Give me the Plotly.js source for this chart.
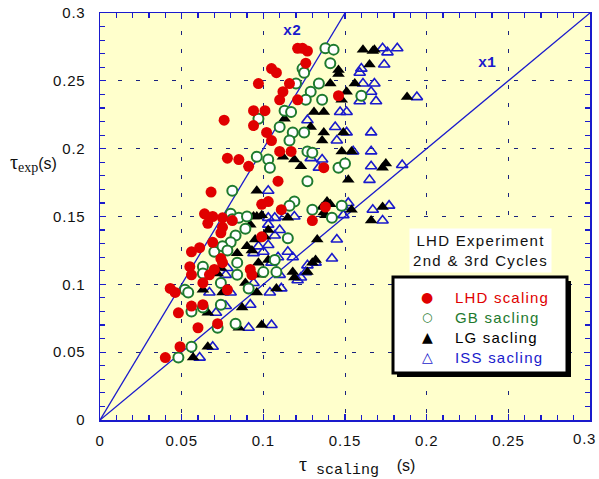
<!DOCTYPE html>
<html>
<head>
<meta charset="utf-8">
<script src="https://cdn.plot.ly/plotly-3.0.1.min.js"></script>
<style>
html,body{margin:0;padding:0;background:#fff;}
#chart{width:599px;height:479px;}
.xtick text, .ytick text{letter-spacing:0.8px;}
</style>
</head>
<body>
<div id="chart"></div>
<script>
// LHD scaling (red filled circles)
const lhdX = [0.121,0.124,0.127,0.126,0.105,0.108,0.097,0.116,0.112,0.110,0.121,0.146,0.094,0.101,0.076,0.094,0.102,0.105,0.110,0.117,0.078,0.085,0.091,0.137,0.109,0.068,0.103,0.099,0.064,0.069,0.066,0.075,0.081,0.075,0.074,0.069,0.056,0.061,0.074,0.075,0.055,0.056,0.070,0.067,0.092,0.043,0.046,0.063,0.078,0.048,0.056,0.063,0.072,0.060,0.049,0.040,0.111,0.130,0.138,0.099,0.093];
const lhdY = [0.274,0.274,0.272,0.263,0.259,0.256,0.248,0.248,0.242,0.236,0.236,0.239,0.228,0.228,0.221,0.217,0.212,0.206,0.198,0.198,0.193,0.192,0.187,0.186,0.176,0.168,0.161,0.159,0.152,0.150,0.145,0.149,0.147,0.142,0.138,0.131,0.124,0.127,0.119,0.116,0.113,0.107,0.111,0.107,0.111,0.097,0.094,0.101,0.096,0.079,0.084,0.085,0.071,0.068,0.054,0.046,0.155,0.147,0.157,0.135,0.107];

// GB scaling (green open circles)
const gbX = [0.138,0.143,0.141,0.124,0.125,0.120,0.134,0.129,0.126,0.136,0.113,0.117,0.097,0.110,0.118,0.125,0.116,0.127,0.130,0.096,0.103,0.104,0.146,0.150,0.127,0.160,0.081,0.119,0.116,0.130,0.148,0.080,0.081,0.085,0.090,0.089,0.083,0.080,0.070,0.075,0.078,0.084,0.063,0.063,0.084,0.074,0.052,0.054,0.063,0.074,0.056,0.072,0.083,0.048,0.056,0.115,0.108,0.100,0.107,0.091,0.142];
const gbY = [0.274,0.273,0.263,0.259,0.256,0.248,0.248,0.242,0.236,0.236,0.228,0.227,0.222,0.216,0.212,0.212,0.206,0.198,0.197,0.194,0.192,0.186,0.186,0.189,0.176,0.239,0.169,0.161,0.158,0.155,0.158,0.152,0.148,0.149,0.150,0.141,0.136,0.131,0.124,0.128,0.125,0.116,0.113,0.108,0.107,0.101,0.096,0.094,0.083,0.085,0.080,0.068,0.071,0.046,0.054,0.134,0.109,0.109,0.118,0.097,0.149];

// LG scaling (black filled triangles)
const lgX = [0.161,0.167,0.168,0.165,0.146,0.146,0.141,0.156,0.151,0.148,0.188,0.131,0.137,0.113,0.129,0.137,0.149,0.136,0.148,0.154,0.112,0.119,0.123,0.175,0.173,0.152,0.096,0.136,0.139,0.141,0.173,0.154,0.166,0.137,0.094,0.096,0.099,0.092,0.103,0.101,0.095,0.090,0.093,0.084,0.097,0.103,0.074,0.072,0.089,0.098,0.096,0.063,0.075,0.087,0.066,0.108,0.118,0.119,0.127,0.133,0.130,0.132,0.085,0.099,0.066,0.057,0.115,0.138];
const lgY = [0.273,0.272,0.273,0.262,0.258,0.255,0.248,0.248,0.242,0.236,0.238,0.227,0.227,0.222,0.216,0.212,0.212,0.206,0.198,0.198,0.194,0.192,0.187,0.189,0.186,0.177,0.169,0.157,0.161,0.159,0.157,0.155,0.147,0.153,0.150,0.150,0.151,0.144,0.140,0.135,0.133,0.128,0.125,0.123,0.116,0.118,0.112,0.108,0.101,0.107,0.094,0.096,0.094,0.083,0.079,0.097,0.109,0.105,0.109,0.133,0.116,0.118,0.068,0.070,0.054,0.046,0.149,0.151];

// ISS scaling (blue open triangles)
const issX = [0.173,0.176,0.182,0.174,0.160,0.159,0.161,0.168,0.166,0.159,0.169,0.194,0.127,0.147,0.151,0.144,0.151,0.166,0.145,0.155,0.166,0.129,0.136,0.134,0.166,0.185,0.165,0.103,0.152,0.149,0.177,0.167,0.173,0.149,0.103,0.107,0.113,0.119,0.103,0.110,0.107,0.145,0.142,0.103,0.097,0.094,0.100,0.109,0.115,0.118,0.105,0.132,0.127,0.126,0.123,0.110,0.078,0.077,0.094,0.067,0.080,0.104,0.111,0.121,0.092,0.077,0.071,0.105,0.091,0.069,0.061];
const issY = [0.274,0.271,0.274,0.262,0.259,0.256,0.248,0.248,0.242,0.235,0.235,0.238,0.221,0.227,0.227,0.216,0.212,0.212,0.206,0.198,0.198,0.193,0.192,0.186,0.187,0.188,0.177,0.169,0.160,0.157,0.158,0.155,0.147,0.151,0.149,0.149,0.150,0.150,0.144,0.140,0.136,0.133,0.119,0.129,0.128,0.123,0.124,0.120,0.124,0.120,0.116,0.116,0.114,0.109,0.105,0.107,0.112,0.107,0.101,0.094,0.094,0.094,0.097,0.103,0.085,0.084,0.079,0.070,0.068,0.054,0.046];

// reference lines y = 2x and y = x
const lineX2 = [0, 0.15];
const lineX1 = [0, 0.3];
const lineSlopes = [2, 1];

// tick labels (the last x label is placed right-aligned so it stays inside the page)
const tickVals = [0, 0.05, 0.1, 0.15, 0.2, 0.25, 0.3];
const tickText = ['0', '0.05', '0.1', '0.15', '0.2', '0.25', '0.3'];
const xTickText = tickText.slice(0, -1).concat(['']);

// legend entries
const seriesNames = ['LHD scaling', 'GB sacling', 'LG sacling', 'ISS sacling'];
const seriesColors = ['#e00000', '#1e7a2e', '#000000', '#1a1acc'];
const seriesGlyphs = ['●', '○', '▲', '△'];

const blue = '#1a1acc';
const traces = [
  {x: lineX2, y: lineX2.map(v => v*lineSlopes[0]), mode:'lines', line:{color:blue, width:1.3}, hoverinfo:'skip'},
  {x: lineX1, y: lineX1.map(v => v*lineSlopes[1]), mode:'lines', line:{color:blue, width:1.3}, hoverinfo:'skip'},
  {x: issX, y: issY, mode:'markers', name:seriesNames[3],
   marker:{symbol:'triangle-up-open', size:10, color:seriesColors[3], line:{width:1.6, color:seriesColors[3]}}},
  {x: lgX, y: lgY, mode:'markers', name:seriesNames[2],
   marker:{symbol:'triangle-up', size:11, color:seriesColors[2]}},
  {x: gbX, y: gbY, mode:'markers', name:seriesNames[1],
   marker:{symbol:'circle', size:10, color:'#ffffff', line:{width:2, color:seriesColors[1]}}},
  {x: lhdX, y: lhdY, mode:'markers', name:seriesNames[0],
   marker:{symbol:'circle', size:11, color:seriesColors[0], line:{width:0}}}
];

const axisCommon = {
  range:[0,0.3], tickvals:tickVals, ticktext:tickText, showgrid:true, gridcolor:'#1a237e', griddash:'4px,14px', gridwidth:1,
  zeroline:false, showline:true, linecolor:blue, linewidth:1.5, mirror:'allticks',
  ticks:'inside', ticklen:6, tickcolor:blue, tickwidth:1.2, ticklabeloverflow:'allow',
  minor:{dtick:0.01, tick0:0, ticks:'inside', ticklen:5, tickcolor:blue, tickwidth:1.2, showgrid:false},
  tickfont:{family:'Liberation Sans, Arial', size:15, color:'#111'},
  fixedrange:true
};

// manual legend (box drawn as shapes, entries as annotations)
const legTop = 297, legStep = 20, symX = 427, txtX = 453;
const px2x = p => (p-100)/490, px2y = p => (420-p)/407;
const legendAnn = [];
seriesNames.forEach((n,i) => {
  const yy = px2y(legTop + i*legStep);
  legendAnn.push({xref:'paper', yref:'paper', x:px2x(symX), y:yy, xanchor:'center', yanchor:'middle', showarrow:false,
    text:seriesGlyphs[i], font:{family:'DejaVu Sans', size:(i===1?12:14), color:seriesColors[i]}});
  legendAnn.push({xref:'paper', yref:'paper', x:px2x(txtX), y:yy, xanchor:'left', yanchor:'middle', showarrow:false,
    text:'<span style="letter-spacing:1.2px">'+n+'</span>', font:{family:'Liberation Sans, Arial', size:15, color:seriesColors[i]}});
});

const layout = {
  width:599, height:479,
  margin:{l:100, r:9, t:13, b:59},
  paper_bgcolor:'#ffffff', plot_bgcolor:'#ffffcc',
  xaxis: Object.assign({}, axisCommon, {ticktext:xTickText, ticklabelstandoff:6}),
  yaxis: Object.assign({}, axisCommon, {ticklabelstandoff:10}),
  showlegend:false,
  shapes:[
    {type:'rect', xref:'paper', yref:'paper', x0:px2x(397), x1:px2x(571), y0:px2y(377), y1:px2y(281), fillcolor:'#000', line:{width:0}, layer:'above'},
    {type:'rect', xref:'paper', yref:'paper', x0:px2x(393), x1:px2x(567), y0:px2y(373), y1:px2y(277), fillcolor:'#fff', line:{width:3, color:'#000'}, layer:'above'}
  ],
  annotations:[
    {xref:'paper', yref:'paper', x:px2x(598), y:px2y(438), xanchor:'right', yanchor:'middle', showarrow:false,
     text:'<span style="letter-spacing:0.8px">'+tickText[tickText.length-1]+'</span>',
     font:{family:'Liberation Sans, Arial', size:15, color:'#111'}},
    {xref:'paper', yref:'paper', x:px2x(480), y:px2y(250), xanchor:'center', yanchor:'middle', showarrow:false,
     text:'<span style="letter-spacing:1.3px">LHD Experiment</span><br><span style="letter-spacing:1.3px">2nd &amp; 3rd Cycles</span>', bgcolor:'#ffffff', borderpad:3,
     font:{family:'Liberation Sans, Arial', size:15, color:'#111'}},
    {xref:'x', yref:'y', x:0.1176, y:0.286, showarrow:false, text:'<b>x2</b>',
     font:{family:'Liberation Mono, Courier New', size:15, color:blue}},
    {xref:'x', yref:'y', x:0.237, y:0.263, showarrow:false, text:'<b>x1</b>',
     font:{family:'Liberation Mono, Courier New', size:15, color:blue}},
    {xref:'paper', yref:'paper', x:px2x(33), y:px2y(163), xanchor:'center', yanchor:'middle', showarrow:false,
     text:'<span style="font-family:Liberation Serif;font-size:20px">τ</span><sub><span style="font-family:Liberation Serif;font-size:14px">exp</span></sub>(s)',
     font:{family:'Liberation Sans, Arial', size:16, color:'#111'}},
    {xref:'paper', yref:'paper', x:px2x(297), y:px2y(466), xanchor:'left', yanchor:'middle', showarrow:false,
     text:'<span style="font-family:Liberation Serif;font-size:20px">τ</span>  <sub><span style="font-family:Liberation Mono;font-size:15px">scaling</span></sub>    (s)',
     font:{family:'Liberation Sans, Arial', size:16, color:'#111'}}
  ].concat(legendAnn)
};

Plotly.newPlot('chart', traces, layout, {staticPlot:true, displayModeBar:false});
</script>
</body>
</html>
